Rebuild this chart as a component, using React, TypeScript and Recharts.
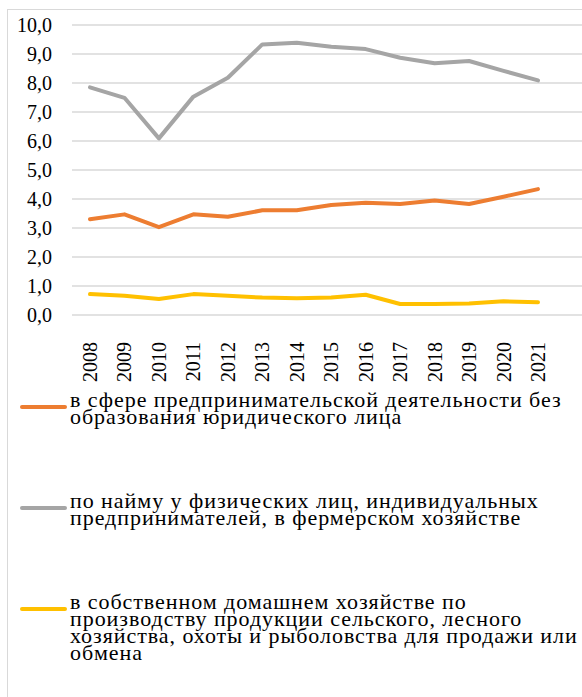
import React from 'react';
import { LineChart, Line, XAxis, YAxis, CartesianGrid } from 'recharts';

const years = ['2008', '2009', '2010', '2011', '2012', '2013', '2014', '2015', '2016', '2017', '2018', '2019', '2020', '2021'];
const entrepreneur = [3.3, 3.47, 3.03, 3.47, 3.39, 3.61, 3.61, 3.79, 3.87, 3.83, 3.95, 3.83, 4.08, 4.34];
const hired = [7.85, 7.49, 6.09, 7.53, 8.18, 9.33, 9.39, 9.25, 9.17, 8.87, 8.68, 8.76, 8.42, 8.09];
const household = [0.72, 0.66, 0.55, 0.72, 0.66, 0.6, 0.58, 0.6, 0.7, 0.38, 0.38, 0.4, 0.47, 0.44];
const yTicks = [0, 1, 2, 3, 4, 5, 6, 7, 8, 9, 10];

const series = [
  {
    key: 'entrepreneur',
    color: '#ED7D31',
    values: entrepreneur,
    label: ['в сфере предпринимательской деятельности без', 'образования юридического лица'],
  },
  {
    key: 'hired',
    color: '#A5A5A5',
    values: hired,
    label: ['по найму у физических лиц, индивидуальных', 'предпринимателей, в фермерском хозяйстве'],
  },
  {
    key: 'household',
    color: '#FFC000',
    values: household,
    label: [
      'в собственном домашнем хозяйстве по',
      'производству продукции сельского, лесного',
      'хозяйства, охоты и рыболовства для продажи или',
      'обмена',
    ],
  },
];

const chartData = years.map((year, i) => {
  const row: any = { year };
  series.forEach(s => {
    row[s.key] = s.values[i];
  });
  return row;
});

const FONT = "'Liberation Serif', Tinos, 'Times New Roman', 'DejaVu Serif', serif";

// rotated year labels under the axis
const YearTick = (props: any) => {
  const { x, y, payload } = props;
  return (
    <g transform={`translate(${x},${y})`}>
      <text transform="rotate(-90)" x={-27} y={7} textAnchor="end" style={{ fontFamily: FONT }} fontSize={20} fill="#000">
        {payload.value}
      </text>
    </g>
  );
};

// top of each legend block
const legendTops = [391, 492, 593];

const App: React.FC = () => {
  return (
    <div style={{ position: 'absolute', left: 0, top: 0, width: 582, height: 697, overflow: 'hidden', background: '#fff', fontFamily: FONT }}>
      <div style={{ position: 'absolute', left: 7, top: 9, width: 640, height: 760, border: '1px solid #d9d9d9' }} />
      <div style={{ position: 'absolute', left: 0, top: 0 }}>
        <LineChart width={600} height={400} data={chartData} margin={{ top: 25, right: 0, left: 0, bottom: 0 }}>
          <CartesianGrid vertical={false} stroke="#d9d9d9" strokeWidth={1.5} />
          <XAxis
            dataKey="year"
            axisLine={false}
            tickLine={false}
            tickSize={0}
            tickMargin={0}
            height={85}
            interval={0}
            padding={{ left: 18, right: 62 }}
            tick={<YearTick />}
          />
          <YAxis
            domain={[0, 10]}
            ticks={yTicks}
            interval={0}
            width={72}
            axisLine={false}
            tickLine={false}
            tickSize={0}
            tickMargin={20}
            tickFormatter={(v: number) => v.toFixed(1).replace('.', ',')}
            tick={{ fontSize: 20, fill: '#000', style: { fontFamily: FONT } }}
          />
          {series.map(s => (
            <Line
              key={s.key}
              dataKey={s.key}
              type="linear"
              stroke={s.color}
              strokeWidth={4}
              strokeLinecap="round"
              strokeLinejoin="round"
              dot={false}
              isAnimationActive={false}
            />
          ))}
        </LineChart>
      </div>
      {series.map((s, i) => (
        <div key={s.key} style={{ position: 'absolute', left: 20, top: legendTops[i], width: 570 }}>
          <div
            style={{
              position: 'absolute',
              left: 0,
              top: 14,
              width: 47,
              height: 4,
              borderRadius: 2,
              background: s.color,
            }}
          />
          <div
            style={{
              position: 'absolute',
              left: 50,
              top: 0,
              fontSize: 22,
              letterSpacing: 0.95,
              lineHeight: '17px',
              color: '#000',
              whiteSpace: 'nowrap',
            }}
          >
            {s.label.map((line, j) => (
              <div key={j}>{line}</div>
            ))}
          </div>
        </div>
      ))}
    </div>
  );
};

export default App;
